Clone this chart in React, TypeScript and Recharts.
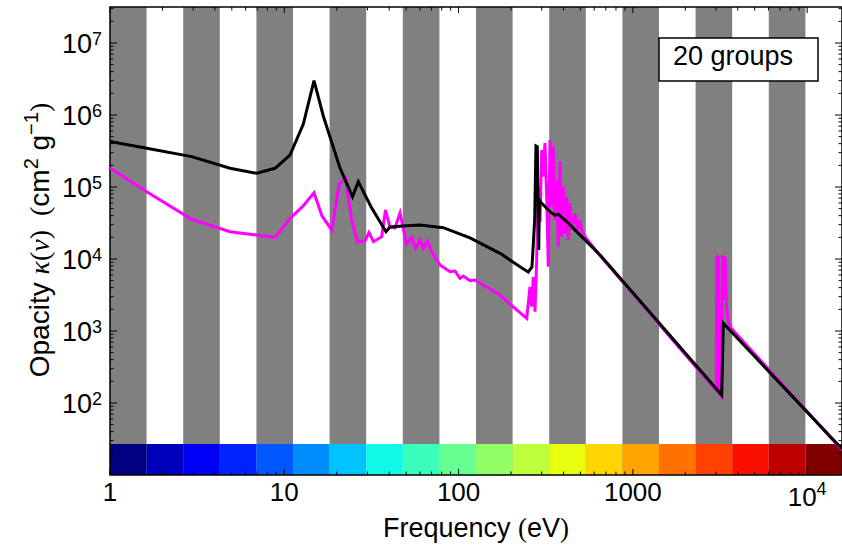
import React from "react";
import { LineChart, Line, XAxis, YAxis, ReferenceArea } from "recharts";

// ---------- data ----------
const blackFreq = [1, 1.624, 2.943, 4.881, 6.945, 8.845, 10.78, 12.86, 14.81, 16.74, 20.87, 24.62, 26.59, 31.45, 38.33, 40.42, 50.0, 60.07, 81.7, 116.3, 172.9, 225.1, 251.2, 263.8, 273.3, 278.0, 282.9, 288.2, 291.3, 300.0, 334.6, 357.4, 373.4, 417.2, 543.4, 647.9, 3234, 3303, 15849];
const blackOpacity = [4.29e5, 3.45e5, 2.64e5, 1.82e5, 1.55e5, 1.82e5, 2.78e5, 7.5e5, 3.0e6, 9.69e5, 1.84e5, 7.33e4, 1.185e5, 5.33e4, 2.39e4, 2.78e4, 2.9e4, 2.97e4, 2.72e4, 1.97e4, 1.2e4, 7.82e3, 6.6e3, 7.74e3, 3.48e4, 3.71e5, 3.63e5, 1.33e4, 6.6e4, 5.94e4, 4.54e4, 4.08e4, 4.18e4, 3.3e4, 1.74e4, 1.14e4, 129, 1279, 23.0];

const magentaFreq = [1, 1.624, 2.943, 4.881, 6.945, 8.845, 10.78, 12.72, 14.81, 16.46, 18.71, 20.68, 22.45, 24.36, 26.3, 29.05, 30.62, 32.49, 36.23, 38.08, 40.42, 43.17, 46.12, 50.25, 53.83, 56.6, 60.3, 62.74, 66.32, 70.1, 78.23, 89.3, 95.4, 101.9, 106.4, 116.3, 124.2, 138.6, 172.9, 215.5, 246.0, 256.9, 262.7, 268.4, 274.5, 280.6, 286.7, 293.3, 300.0, 306.3, 313.2, 320.3, 327.2, 334.6, 342.2, 349.5, 357.4, 365.6, 373.4, 381.9, 390.6, 398.9, 408.0, 417.2, 426.1, 435.8, 445.7, 465.5, 480.0, 497.5, 508.7, 543.4, 647.9, 2921, 3007, 3030, 3063, 3104, 3145, 3225, 3272, 3333, 3386, 3445, 3528, 3656, 15849];
const magentaOpacity = [1.84e5, 8.61e4, 3.56e4, 2.39e4, 2.15e4, 2.0e4, 3.65e4, 5.33e4, 8.33e4, 3.96e4, 2.53e4, 1.1e5, 1.33e5, 3.48e4, 1.72e4, 1.78e4, 2.33e4, 1.74e4, 2.04e4, 4.79e4, 2.78e4, 2.7e4, 4.36e4, 1.62e4, 1.99e4, 1.41e4, 1.84e4, 1.41e4, 1.76e4, 1.26e4, 8.25e3, 6.66e3, 6.81e3, 5.39e3, 5.81e3, 5.0e3, 5.11e3, 4.36e3, 3.16e3, 1.96e3, 1.5e3, 4.09e3, 2.18e3, 5.62e3, 1.85e3, 9.69e3, 1.01e5, 3.27e4, 3.27e5, 1.39e5, 4.09e5, 7.33e4, 7.82e3, 4.5e5, 5.33e4, 3.63e5, 3.48e4, 1.25e5, 1.48e4, 2.25e5, 2.04e4, 1.01e5, 2.27e4, 7.33e4, 1.84e4, 5.94e4, 2.53e4, 4.31e4, 2.53e4, 3.48e4, 2.45e4, 1.9e4, 1.12e4, 162, 152, 1.14e4, 142, 1.1e4, 133, 123, 1.14e4, 2.7e3, 1.07e4, 2.3e3, 1.33e3, 1.1e3, 22.3];

// group boundaries (eV), 20 groups
const groupEdges = [1, 1.6218, 2.6303, 4.2658, 6.9183, 11.22, 18.197, 29.512, 47.863, 77.625, 125.89, 204.17, 331.13, 537.03, 870.96, 1412.5, 2290.9, 3715.4, 6025.6, 9772.4, 15849];
const groupColors = ["#000080", "#0000bc", "#0000f9", "#0022ff", "#0057ff", "#008dff", "#00c3ff", "#0ff8e8", "#3affbc", "#66ff91", "#91ff66", "#bcff3a", "#e8ff0f", "#ffd500", "#ffa300", "#ff7200", "#ff4000", "#f90e00", "#bc0000", "#800000"];

// ticks
const xMajorTicks = [1, 10, 100, 1000, 10000];
const xLabelBase = ["1", "10", "100", "1000", "10"];
const xLabelExp = ["", "", "", "", "4"];
const yMajorTicks = [100, 1000, 10000, 100000, 1000000, 10000000];
const yLabelExp = ["2", "3", "4", "5", "6", "7"];
const minorMult = [1, 2, 3, 4, 5, 6, 7, 8, 9];
const yDecades = [10, 100, 1000, 10000, 100000, 1000000, 10000000];

const X_DOMAIN: [number, number] = [1, 15849];
const Y_DOMAIN: [number, number] = [10, 31622777];
const COLORBAR_TOP = 27;

const xTicks = xMajorTicks.flatMap((d) => minorMult.map((m) => m * d)).filter((v) => v <= X_DOMAIN[1]);
const yTicks = yDecades.flatMap((d) => minorMult.map((m) => m * d)).filter((v) => v > Y_DOMAIN[0] && v <= Y_DOMAIN[1]);

const blackData = blackFreq.map((f, i) => ({ x: f, y: blackOpacity[i] }));
const magentaData = magentaFreq.map((f, i) => ({ x: f, y: magentaOpacity[i] }));

// ---------- layout ----------
const W = 842;
const H = 547;
const PLOT_LEFT = 110;
const PLOT_RIGHT = 842;
const PLOT_TOP = 7;
const PLOT_BOTTOM = 475;
const FONT = "'Liberation Sans', Arial, sans-serif";
const SERIF = "'Liberation Serif', 'Times New Roman', serif";

function XTick(props: any) {
  const { x, payload } = props;
  const v = payload.value;
  const idx = xMajorTicks.indexOf(v);
  const major = idx >= 0;
  const len = major ? 6 : 3.5;
  return (
    <g>
      <line x1={x} x2={x} y1={PLOT_BOTTOM} y2={PLOT_BOTTOM - len} stroke="#000" strokeWidth={1} />
      <line x1={x} x2={x} y1={PLOT_TOP} y2={PLOT_TOP + len} stroke="#000" strokeWidth={1} />
      {major &&
        (xLabelExp[idx] ? (
          <text x={x} y={506} textAnchor="middle" fontSize={26} fontFamily={FONT} fill="#000">
            {xLabelBase[idx]}
            <tspan dy={-11} fontSize={18}>
              {xLabelExp[idx]}
            </tspan>
          </text>
        ) : (
          <text x={x} y={501} textAnchor="middle" fontSize={26} fontFamily={FONT} fill="#000">
            {xLabelBase[idx]}
          </text>
        ))}
    </g>
  );
}

function YTick(props: any) {
  const { y, payload } = props;
  const v = payload.value;
  const idx = yMajorTicks.indexOf(v);
  const major = idx >= 0;
  const len = major ? 7 : 3.5;
  return (
    <g>
      <line x1={PLOT_LEFT} x2={PLOT_LEFT + len} y1={y} y2={y} stroke="#000" strokeWidth={1} />
      <line x1={PLOT_RIGHT} x2={PLOT_RIGHT - len} y1={y} y2={y} stroke="#000" strokeWidth={1} />
      {major && (
        <text x={102} y={y + 10} textAnchor="end" fontSize={27} fontFamily={FONT} fill="#000">
          10
          <tspan dy={-8.5} fontSize={18}>
            {yLabelExp[idx]}
          </tspan>
        </text>
      )}
    </g>
  );
}

export default function App() {
  const grayBands = groupEdges.slice(0, 20).map((e, i) => ({ x1: e, x2: groupEdges[i + 1], i })).filter((b) => b.i % 2 === 0);
  const colorCells = groupEdges.slice(0, 20).map((e, i) => ({ x1: e, x2: groupEdges[i + 1], color: groupColors[i] }));
  return (
    <div style={{ position: "absolute", left: 0, top: 0, width: W, height: H, background: "#fff" }}>
      <LineChart width={W} height={H} margin={{ top: PLOT_TOP, right: 0, bottom: 0, left: 0 }}>
        <XAxis
          dataKey="x"
          type="number"
          scale="log"
          domain={X_DOMAIN}
          allowDataOverflow
          ticks={xTicks}
          interval={0}
          height={72}
          axisLine={false}
          tickLine={false}
          tick={(p: any) => <XTick {...p} />}
        />
        <YAxis
          dataKey="y"
          type="number"
          scale="log"
          domain={Y_DOMAIN}
          allowDataOverflow
          ticks={yTicks}
          interval={0}
          width={110}
          axisLine={false}
          tickLine={false}
          tick={(p: any) => <YTick {...p} />}
        />
        {grayBands.map((b) => (
          <ReferenceArea key={"g" + b.i} x1={b.x1} x2={b.x2} fill="#808080" fillOpacity={1} stroke="none" ifOverflow="hidden" />
        ))}
        {colorCells.map((c, i) => (
          <ReferenceArea key={"c" + i} x1={c.x1} x2={c.x2} y1={Y_DOMAIN[0]} y2={COLORBAR_TOP} fill={c.color} fillOpacity={1} stroke="none" ifOverflow="hidden" />
        ))}
        <Line data={magentaData} dataKey="y" type="linear" stroke="#ff00ff" strokeWidth={3} dot={false} activeDot={false} isAnimationActive={false} />
        <Line data={blackData} dataKey="y" type="linear" stroke="#000000" strokeWidth={3} dot={false} activeDot={false} isAnimationActive={false} />
        <ReferenceArea x1={X_DOMAIN[0]} x2={X_DOMAIN[1]} y1={Y_DOMAIN[0]} y2={Y_DOMAIN[1]} fill="none" fillOpacity={0} stroke="#000" strokeWidth={1.5} />
      </LineChart>
      <svg width={W} height={H} style={{ position: "absolute", left: 0, top: 0, pointerEvents: "none" }}>
        <text x={476} y={537} textAnchor="middle" fontSize={27} fontFamily={FONT} fill="#000">
          Frequency <tspan fontFamily={SERIF}>(</tspan>eV<tspan fontFamily={SERIF}>)</tspan>
        </text>
        <text transform="translate(49,240) rotate(-90)" textAnchor="middle" fontSize={28} fontFamily={FONT} fill="#000">
          {"Opacity "}
          <tspan fontFamily={SERIF} fontStyle="italic">κ</tspan>
          <tspan fontFamily={SERIF}>(</tspan>
          <tspan fontFamily={SERIF} fontStyle="italic">ν</tspan>
          <tspan fontFamily={SERIF}>)</tspan>
          <tspan fontFamily={SERIF}>{"\u00a0\u00a0("}</tspan>
          cm
          <tspan dy={-11} fontSize={20}>2</tspan>
          <tspan dy={11}>{"\u00a0g"}</tspan>
          <tspan dy={-11} fontSize={20}>−1</tspan>
          <tspan dy={11} fontFamily={SERIF}>)</tspan>
        </text>
        <rect x={659} y={38} width={159} height={43} fill="#fff" stroke="#000" strokeWidth={1.5} />
        <text x={673} y={65} fontSize={27} fontFamily={FONT} fill="#000">
          20 groups
        </text>
      </svg>
    </div>
  );
}
